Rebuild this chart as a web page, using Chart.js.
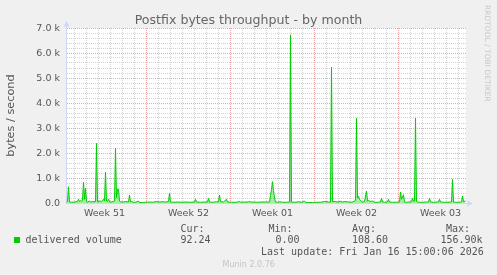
<!DOCTYPE html>
<html>
<head>
<meta charset="utf-8">
<script src="https://cdn.jsdelivr.net/npm/chart.js@4"></script>
<style>
html, body { margin: 0; padding: 0; background: #f0f0f0; }
canvas { display: block; }
</style>
</head>
<body>
<canvas id="canvas1" width="497" height="275"></canvas>
<script>
// week labels sit in the middle of each week (x = hours from Mon of week 51)
var weekLabels = ['Week 51', 'Week 52', 'Week 01', 'Week 02', 'Week 03'];

// delivered volume, bytes / second
var hours = [8, 10, 12, 14, 18, 24, 30, 32, 34, 36, 38, 40, 42, 44, 46, 48, 50, 54, 56, 60,
    66, 68, 70, 74, 78, 82, 84, 86, 88, 90, 92, 94, 98, 104, 106, 108, 110, 112, 114, 116,
    122, 126, 132, 134, 136, 138, 140, 146, 152, 154, 160, 166, 174, 180, 188, 194, 200, 206, 212, 214,
    216, 222, 230, 238, 246, 254, 264, 266, 268, 276, 284, 290, 292, 294, 300, 308, 312, 314, 316, 322,
    328, 330, 338, 346, 352, 354, 356, 364, 372, 374, 376, 382, 390, 398, 406, 414, 416, 418, 420, 422,
    424, 426, 430, 434, 440, 448, 454, 456, 458, 464, 474, 478, 484, 486, 492, 500, 508, 516, 524, 528,
    532, 536, 538, 540, 546, 550, 556, 560, 564, 570, 576, 580, 586, 588, 590, 592, 594, 598, 600, 604,
    608, 610, 612, 616, 620, 624, 630, 636, 638, 640, 644, 650, 652, 654, 660, 668, 674, 676, 678, 682,
    684, 688, 694, 698, 700, 702, 704, 706, 708, 712, 720, 728, 732, 734, 736, 742, 750, 752, 754, 756,
    762, 768, 776, 778, 780, 782, 786, 792, 798, 800, 802, 806];
var bytes = [40, 60, 650, 40, 30, 40, 60, 150, 60, 100, 60, 120, 830, 150, 590, 60, 40, 80, 40, 50,
    60, 2390, 60, 80, 60, 150, 80, 1230, 80, 60, 160, 50, 40, 80, 2190, 200, 540, 560, 80, 50,
    40, 60, 40, 320, 40, 80, 30, 30, 80, 20, 20, 30, 40, 30, 60, 40, 50, 40, 60, 390,
    40, 30, 40, 30, 40, 30, 40, 150, 40, 30, 40, 40, 190, 40, 30, 50, 60, 320, 50, 40,
    150, 40, 30, 30, 40, 80, 30, 40, 40, 80, 30, 40, 30, 40, 40, 40, 300, 550, 850, 500,
    200, 40, 30, 50, 30, 30, 40, 6720, 40, 30, 50, 30, 80, 30, 20, 20, 30, 30, 60, 60,
    40, 40, 5440, 60, 60, 40, 70, 40, 60, 50, 30, 40, 100, 3400, 200, 280, 150, 60, 40, 60,
    480, 80, 100, 60, 80, 30, 30, 40, 190, 40, 30, 40, 150, 40, 30, 30, 40, 440, 150, 330,
    40, 30, 40, 60, 190, 60, 80, 3400, 60, 30, 30, 40, 40, 190, 40, 30, 40, 40, 150, 40,
    30, 30, 40, 40, 950, 40, 30, 30, 40, 280, 60, 80];

var statNames = ['Cur:', 'Min:', 'Avg:', 'Max:'];
var statValues = ['92.24', '0.00', '108.60', '156.90k'];

var MINOR = '#d2d2d2';
var MAJOR = '#f0a4a4';
var AXIS = '#cfd6f8';

var muninPlugin = {
    id: 'munin',
    beforeDraw: function (chart) {
        var c = chart.ctx, a = chart.chartArea;
        c.save();
        c.fillStyle = '#f0f0f0';
        c.fillRect(0, 0, chart.width, chart.height);
        c.fillStyle = '#ffffff';
        c.fillRect(a.left, a.top, a.right - a.left, a.bottom - a.top);
        c.restore();
    },
    afterDraw: function (chart) {
        var c = chart.ctx, a = chart.chartArea;
        c.save();
        // axis arrows
        c.strokeStyle = AXIS;
        c.fillStyle = AXIS;
        c.lineWidth = 1;
        c.beginPath();
        c.moveTo(a.left + 0.5, a.top);
        c.lineTo(a.left + 0.5, a.top - 2);
        c.moveTo(a.right, a.bottom + 0.5);
        c.lineTo(a.right + 2, a.bottom + 0.5);
        c.stroke();
        c.beginPath();
        c.moveTo(a.left + 0.5, a.top - 7);
        c.lineTo(a.left - 2.5, a.top - 1.5);
        c.lineTo(a.left + 3.5, a.top - 1.5);
        c.closePath();
        c.fill();
        c.beginPath();
        c.moveTo(a.right + 7, a.bottom + 0.5);
        c.lineTo(a.right + 1.5, a.bottom - 2.5);
        c.lineTo(a.right + 1.5, a.bottom + 3.5);
        c.closePath();
        c.fill();

        // title
        c.fillStyle = '#666666';
        c.font = '12.6px "DejaVu Sans"';
        c.textAlign = 'center';
        c.fillText('Postfix bytes throughput - by month', 248.5, 24);

        // legend
        c.fillStyle = '#00cc00';
        c.fillRect(14, 237, 6, 6);
        c.fillStyle = '#555555';
        c.font = '10px "DejaVu Sans Mono"';
        c.textAlign = 'left';
        c.fillText('delivered volume', 25.5, 243);
        var headX = [180.5, 268.5, 352, 446];
        var valX = [180.5, 275.5, 352, 440.5];
        for (var i = 0; i < statNames.length; i++) {
            c.fillText(statNames[i], headX[i], 231.5);
            c.fillText(statValues[i], valX[i], 243);
        }
        c.fillText('Last update: Fri Jan 16 15:00:06 2026', 261, 255);

        c.fillStyle = '#c4c4c4';
        c.font = '8px "DejaVu Sans"';
        c.fillText('Munin 2.0.76', 222.5, 266.5);

        // rrdtool watermark
        c.translate(485, 5);
        c.rotate(Math.PI / 2);
        c.font = '7.5px "DejaVu Sans"';
        c.fillStyle = '#c8c8c8';
        c.fillText('RRDTOOL / TOBI OETIKER', 0, 0);
        c.restore();
    }
};

var ctx = document.getElementById('canvas1').getContext('2d');
var chart = new Chart(ctx, {
    type: 'line',
    data: {
        datasets: [{
            label: 'delivered volume',
            data: hours.map(function (h, i) { return { x: h, y: bytes[i] }; }),
            borderColor: '#00cc00',
            backgroundColor: 'rgba(0, 204, 0, 0.35)',
            borderWidth: 1,
            pointRadius: 0,
            tension: 0,
            fill: 'origin'
        }]
    },
    options: {
        responsive: false,
        animation: false,
        events: [],
        layout: { padding: { left: 0, right: 31, top: 28, bottom: 0 } },
        plugins: {
            legend: { display: false },
            tooltip: { enabled: false }
        },
        scales: {
            x: {
                type: 'linear',
                min: 7,
                max: 807,
                afterBuildTicks: function (axis) {
                    var t = [];
                    for (var h = 12; h <= 804; h += 12) t.push({ value: h });
                    axis.ticks = t;
                },
                afterFit: function (s) { s.height = 72; },
                grid: {
                    drawTicks: false,
                    color: function (c) { return c.tick.value % 168 === 0 ? MAJOR : MINOR; },
                    lineWidth: function (c) { return c.tick.value % 24 === 0 ? 1 : 0; }
                },
                border: { color: AXIS, dash: [1, 1] },
                ticks: {
                    autoSkip: false,
                    maxRotation: 0,
                    padding: 5,
                    color: '#555555',
                    font: { family: 'DejaVu Sans', size: 9.5 },
                    callback: function (v) {
                        var k = (v - 84) / 168;
                        return Number.isInteger(k) && weekLabels[k] ? weekLabels[k] : '';
                    }
                }
            },
            y: {
                min: 0,
                max: 7000,
                afterBuildTicks: function (axis) {
                    var t = [];
                    for (var v = 0; v <= 7000; v += 200) t.push({ value: v });
                    axis.ticks = t;
                },
                afterFit: function (s) { s.width = 66; },
                grid: {
                    drawTicks: false,
                    color: function (c) { return c.tick.value % 1000 === 0 ? MAJOR : MINOR; },
                    lineWidth: function (c) { return c.tick.value === 0 ? 0 : 1; }
                },
                border: { color: AXIS, dash: [1, 1] },
                title: {
                    display: true,
                    text: 'bytes / second',
                    color: '#555555',
                    font: { family: 'DejaVu Sans', size: 11.3 },
                    padding: { top: 4, bottom: 0 }
                },
                ticks: {
                    autoSkip: false,
                    padding: 6,
                    labelOffset: 1,
                    color: '#555555',
                    font: { family: 'DejaVu Sans', size: 9.5 },
                    callback: function (v) {
                        if (v % 1000 !== 0) return '';
                        return v === 0 ? '0.0' : (v / 1000).toFixed(1) + ' k';
                    }
                }
            }
        }
    },
    plugins: [muninPlugin]
});
</script>
</body>
</html>
